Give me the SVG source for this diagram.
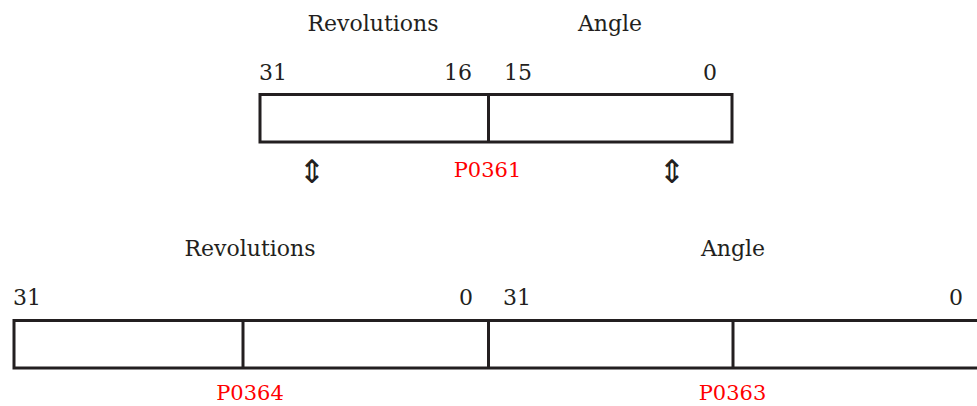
<svg xmlns="http://www.w3.org/2000/svg" width="977" height="406" viewBox="0 0 977 406">
<style>
.t{font-family:"DejaVu Serif",serif;font-size:22px;fill:#231f20}
.r{font-family:"DejaVu Serif",serif;font-size:21px;fill:#ff0000;text-anchor:middle}
.m{text-anchor:middle}
.e{text-anchor:end}
.box{fill:none;stroke:#231f20;stroke-width:3}
.ar{font-family:"DejaVu Sans",sans-serif;font-size:32px;fill:#231f20;text-anchor:middle}
</style>
<rect width="977" height="406" fill="#fff"/>
<g id="top-register">
<text class="t m" x="373" y="31">Revolutions</text>
<text class="t m" x="610" y="31">Angle</text>
<text class="t" x="259" y="80">31</text>
<text class="t e" x="472" y="80">16</text>
<text class="t" x="504" y="80">15</text>
<text class="t e" x="717" y="80">0</text>
<rect class="box" x="260" y="94.5" width="472" height="47.5"/>
<line class="box" x1="488.5" y1="94.5" x2="488.5" y2="142"/>
<text class="r" x="487.5" y="177">P0361</text>
</g>
<g id="connectors">
<text class="ar" x="312" y="183">⇕</text>
<text class="ar" x="672" y="183">⇕</text>
</g>
<g id="bottom-register">
<text class="t m" x="250" y="256">Revolutions</text>
<text class="t m" x="733" y="256">Angle</text>
<text class="t" x="13" y="305">31</text>
<text class="t e" x="473" y="305">0</text>
<text class="t" x="503" y="305">31</text>
<text class="t e" x="963" y="305">0</text>
<rect class="box" x="14" y="320.5" width="970" height="47.5"/>
<line class="box" x1="243" y1="320.5" x2="243" y2="368"/>
<line class="box" x1="488.5" y1="320.5" x2="488.5" y2="368"/>
<line class="box" x1="733" y1="320.5" x2="733" y2="368"/>
<text class="r" x="250" y="400">P0364</text>
<text class="r" x="732.5" y="400">P0363</text>
</g>
</svg>
